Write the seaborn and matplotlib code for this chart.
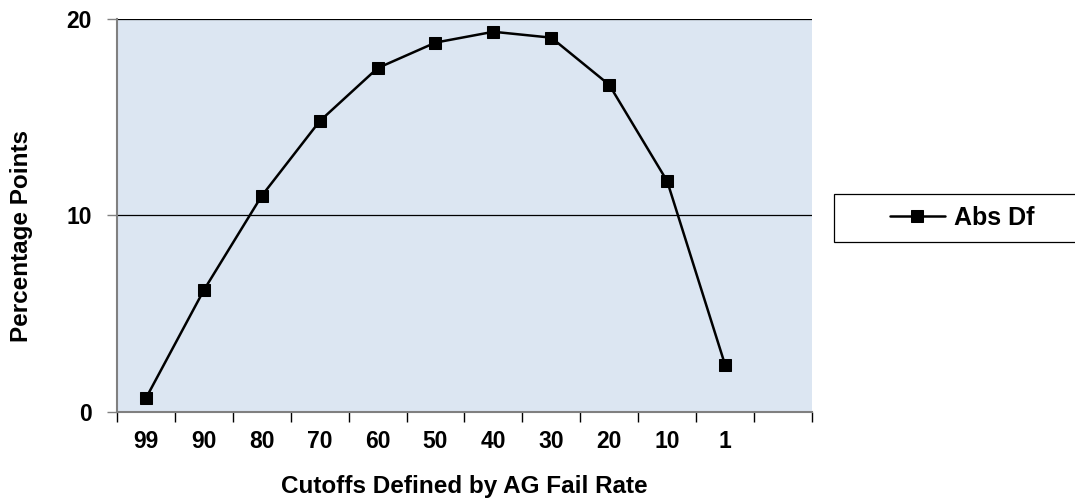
import numpy as np
import pandas as pd
import matplotlib
matplotlib.use('Agg')
import matplotlib.pyplot as plt
from matplotlib.patches import Rectangle
import seaborn as sns

sns.set_style("white")
plt.rcParams['font.family'] = ['Liberation Sans', 'DejaVu Sans']
plt.rcParams['font.weight'] = 'bold'
plt.rcParams['text.color'] = 'black'
plt.rcParams['axes.labelcolor'] = 'black'
plt.rcParams['xtick.color'] = 'black'
plt.rcParams['ytick.color'] = 'black'

cutoffs = ['99', '90', '80', '70', '60', '50', '40', '30', '20', '10', '1']
abs_df = [0.7, 6.2, 11.0, 14.8, 17.5, 18.8, 19.35, 19.05, 16.65, 11.75, 2.4]

df = pd.DataFrame({'Cutoff': cutoffs, 'Abs Df': abs_df})

fig = plt.figure(figsize=(10.75, 5), dpi=100)
ax = fig.add_axes([0.1088, 0.176, 0.6465, 0.786])
ax.set_facecolor('#dce6f2')

sns.lineplot(data=df, x='Cutoff', y='Abs Df', sort=False, marker='s', markersize=8.5,
             color='black', linewidth=1.8, markeredgecolor='black', label='Abs Df', ax=ax)

ax.set_xlim(-0.5, len(cutoffs) + 0.5)
ax.set_ylim(0, 20)
ax.set_yticks([0, 10, 20])
ax.tick_params(axis='y', labelsize=16.5, length=7, width=1, direction='out', left=True,
               color='#808080', pad=11, labelcolor='black')
ax.grid(axis='y', color='black', linewidth=0.9)

# category boundary ticks, labels centred in each slot
ax.set_xticks(np.arange(-0.5, len(cutoffs) + 1, 1))
ax.set_xticklabels([])
ax.set_xticks(np.arange(len(cutoffs)), minor=True)
ax.set_xticklabels(cutoffs, minor=True)
ax.tick_params(axis='x', which='major', length=7, width=1, direction='out', bottom=True, color='black')
ax.tick_params(axis='x', which='minor', length=0, labelsize=16.5, pad=13, labelcolor='black')

for side in ['top', 'right']:
    ax.spines[side].set_visible(False)
for side in ['left', 'bottom']:
    ax.spines[side].set_color('#808080')
    ax.spines[side].set_linewidth(1.5)

ax.set_xlabel('Cutoffs Defined by AG Fail Rate', fontsize=17.5, fontweight='bold', labelpad=16)
ax.set_ylabel('Percentage Points', fontsize=17.5, fontweight='bold')
ax.yaxis.set_label_coords(-0.121, 0.448)

# legend box sits right of the plot and runs off the figure edge
fig.patches.append(Rectangle((834 / 1075, 1 - 242 / 500), 0.3, 48 / 500,
                             transform=fig.transFigure, facecolor='white',
                             edgecolor='black', linewidth=0.9, zorder=-1))
leg = ax.legend(loc='center left', bbox_to_anchor=(1.112, 0.4936), frameon=False,
                fontsize=18, handlelength=2.2, handletextpad=0.35, borderpad=0, borderaxespad=0)
for t in leg.get_texts():
    t.set_fontweight('bold')

fig.savefig('out.png', dpi=100)
